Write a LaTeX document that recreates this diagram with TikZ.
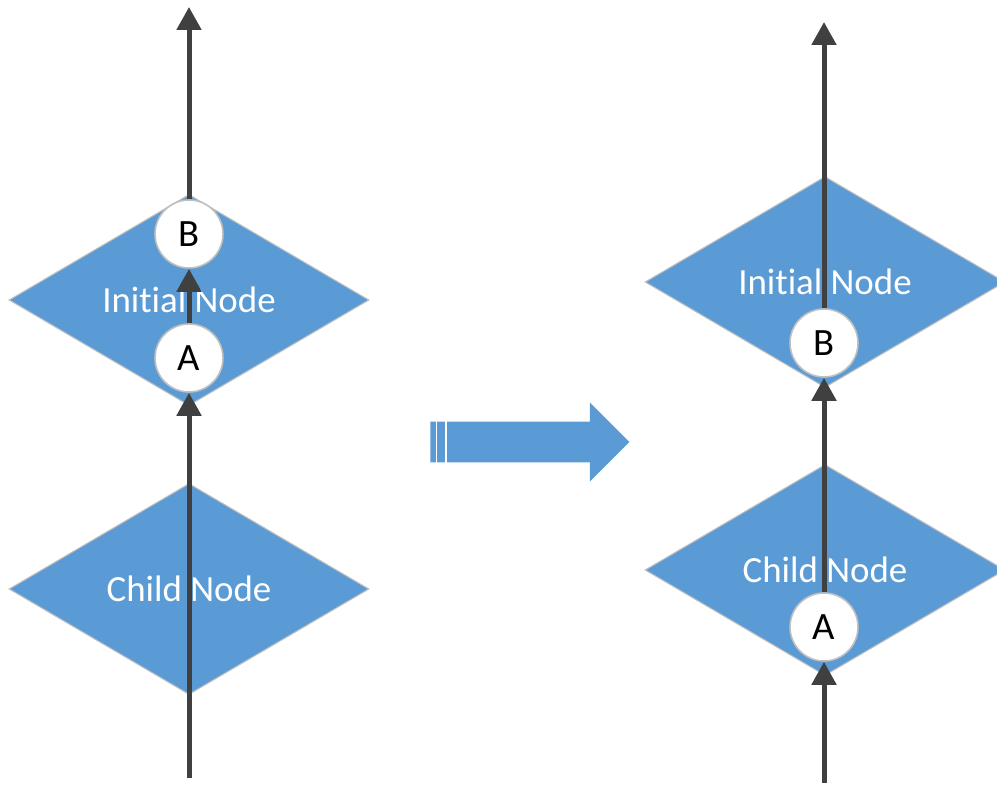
\documentclass[tikz,border=0pt]{standalone}
\usepackage{fontspec}
\setmainfont[Ligatures=NoCommon,RawFeature=-liga]{Carlito}
\usetikzlibrary{arrows.meta,shapes.geometric,shapes.arrows}
\definecolor{boxblue}{RGB}{91,155,213}
\definecolor{edgegray}{RGB}{191,191,191}
\definecolor{flowgray}{RGB}{64,64,64}

\begin{document}
\begin{tikzpicture}[x=0.02cm,y=-0.02cm,
  every node/.style={font=\fontsize{21}{25}\selectfont},
  block/.style={diamond,aspect=1.7,inner sep=0pt,minimum width=7.2cm,minimum height=4.22cm,
    fill=boxblue,draw=edgegray,line width=0.6pt,text=white},
  marker/.style={circle,inner sep=0pt,minimum size=1.36cm,fill=white,draw=edgegray,
    line width=0.9pt,font=\fontsize{22}{26}\selectfont},
  flow/.style={draw=flowgray,line width=0.1cm,-{Triangle[length=0.46cm,width=0.48cm]}}]
\useasboundingbox (0,0) rectangle (997,786);

\node[block] (initL) at (189,300) {Initial Node};
\node[block] (childL) at (189,589) {Child Node};
\node[marker] (bL) at (189,234) {B};
\node[marker] (aL) at (189,358) {A};
\coordinate (topL) at (189,7);
\coordinate (baseL) at (189,778);

\node[block] (initR) at (825,282) {Initial Node};
\node[block] (childR) at (825,570) {Child Node};
\node[marker] (bR) at (824,343) {B};
\node[marker] (aR) at (824,627) {A};
\coordinate (topR) at (824,22);
\coordinate (baseR) at (824,783);

\draw[flow] (baseL) -- (aL);
\draw[flow] (aL) -- (bL);
\draw[flow] (bL) -- (topL);

\draw[flow] (baseR) -- (aR);
\draw[flow] (aR) -- (bR);
\draw[flow] (bR) -- (topR);

\node[single arrow,fill=boxblue,inner sep=0.4cm,minimum width=1.56cm,minimum height=3.98cm,
  single arrow head extend=0.38cm,anchor=tail] (shift) at (430,442) {};
\draw[white,line width=0.85pt] ([xshift=0.13cm]shift.before tail) -- ([xshift=0.13cm]shift.after tail);
\draw[white,line width=0.85pt] ([xshift=0.32cm]shift.before tail) -- ([xshift=0.32cm]shift.after tail);
\end{tikzpicture}
\end{document}
